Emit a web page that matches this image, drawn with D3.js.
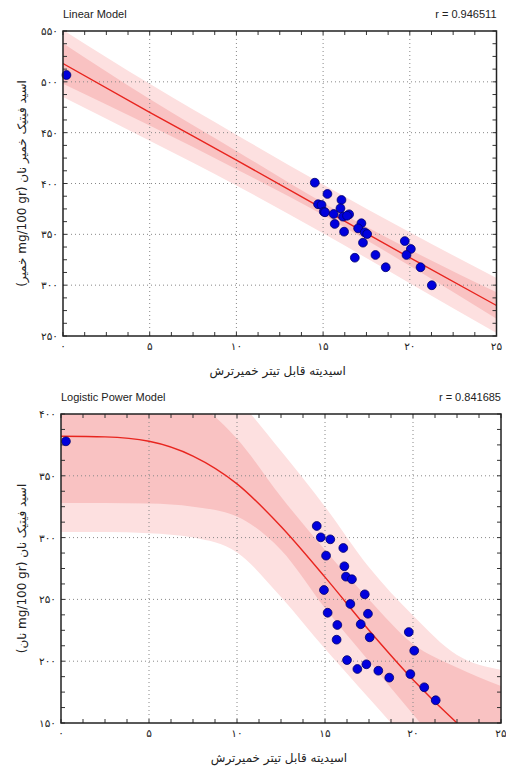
<!DOCTYPE html>
<html>
<head>
<meta charset="utf-8">
<script src="https://cdn.jsdelivr.net/npm/d3@7"></script>
<style>
  body { margin: 0; background: #fff; }
  .fa { font-family: "DejaVu Sans", sans-serif; }
  .en { font-family: "Liberation Sans", Arial, sans-serif; }
</style>
</head>
<body>
<div id="container"></div>
<script>
// valores
const topX = [0.2, 14.52, 15.25, 14.71, 14.91, 16.06, 15.04, 15.11, 15.61, 16.0, 16.15, 16.5, 16.38, 15.67,
  16.21, 17.21, 17.02, 17.4, 17.54, 17.3, 16.83, 18.02, 18.61, 19.71, 20.06, 19.81, 20.62, 21.27];
const topY = [506.7, 400.8, 389.7, 379.6, 378.9, 383.8, 372.3, 371.7, 370, 375.6, 367.4, 369.7, 368.3, 360.2,
  352.6, 360.9, 355.9, 352, 350.3, 341.8, 327, 329.7, 317.6, 343.4, 335.6, 329.7, 317.6, 299.9];

const botX = [0.28, 14.53, 14.76, 15.3, 16.04, 15.06, 16.1, 16.19, 16.53, 14.94, 17.26, 16.44, 15.15, 17.44,
  15.7, 17.03, 15.66, 17.54, 19.76, 20.07, 16.25, 17.35, 16.84, 18.03, 18.65, 19.85, 20.64, 21.29];
const botY = [377.9, 309.4, 300.2, 298.6, 291.6, 285.4, 276.8, 268.4, 266.3, 257.6, 254.1, 246.3, 239.2, 238.4,
  229.3, 229.9, 217.4, 219.3, 223.6, 208.5, 200.9, 197.5, 193.7, 192.3, 186.7, 189.6, 178.9, 168.4];

// modelo lineal: curva y bandas
const linBandX = [0, 5, 10, 15, 20, 25];
const linFit    = [518, 470, 423, 375, 327, 280];
const linConfLo = [498, 457, 414, 369, 319, 267];
const linConfHi = [538, 483, 432, 381, 335, 293];
const linPredLo = [485, 442, 398, 351, 302, 253];
const linPredHi = [551, 498, 448, 399, 352, 307];

// modelo logistic power: curva y bandas
const logBandX = [0, 2.5, 5, 7.5, 10, 12.5, 15, 17.5, 20, 22.5, 25];
const logFit    = [382, 381.5, 378, 366, 343.5, 309, 268, 225, 185, 150, 120];
const logConfLo = [328, 328, 327.5, 325, 317, 290, 243, 200, 157, 115, 75];
const logConfHi = [440, 440, 432, 412, 380, 333, 290, 250, 214, 195, 180];
const logPredLo = [304.5, 304.5, 303.5, 300, 288, 252, 210, 170, 130, 90, 50];
const logPredHi = [460, 460, 455, 440, 412, 370, 325, 276, 237, 205, 193];

const xTicks = [0, 5, 10, 15, 20, 25];
const yTicksTop = [250, 300, 350, 400, 450, 500, 550];
const yTicksBot = [150, 200, 250, 300, 350, 400];

const WIDTH = 506;
const HEIGHT = 767;

const svg = d3.select('#container')
  .append('svg')
    .attr('width', WIDTH)
    .attr('height', HEIGHT);

const fa = v => String(v).replace(/\d/g, d => '۰۱۲۳۴۵۶۷۸۹'[d]);

function drawChart(c) {
  const x = d3.scaleLinear().domain([0, 25]).range([c.left, c.right]);
  const y = d3.scaleLinear().domain(c.yDomain).range([c.bottom, c.top]);
  const g = svg.append('g');

  g.append('clipPath').attr('id', c.id)
    .append('rect')
      .attr('x', c.left).attr('y', c.top)
      .attr('width', c.right - c.left).attr('height', c.bottom - c.top);

  const plot = g.append('g').attr('clip-path', `url(#${c.id})`);

  // bandas
  const area = (lo, hi) => d3.area()
    .x((d, i) => x(c.bandX[i]))
    .y0((d, i) => y(lo[i]))
    .y1((d, i) => y(hi[i]))
    .curve(d3.curveMonotoneX);

  plot.append('path').datum(c.bandX)
    .attr('d', area(c.predLo, c.predHi))
    .attr('fill', '#fde0e0');
  plot.append('path').datum(c.bandX)
    .attr('d', area(c.confLo, c.confHi))
    .attr('fill', '#f9c2c2');

  // grid
  const [y0, y1] = c.yDomain;
  plot.selectAll('.gx').data(xTicks.slice(1, -1)).enter()
    .append('line')
      .attr('x1', d => x(d)).attr('x2', d => x(d))
      .attr('y1', c.top).attr('y2', c.bottom)
      .attr('stroke', '#888').attr('stroke-width', 1).attr('stroke-dasharray', '1,3');
  plot.selectAll('.gy').data(c.yTicks.filter(v => v > y0 && v < y1)).enter()
    .append('line')
      .attr('y1', d => y(d)).attr('y2', d => y(d))
      .attr('x1', c.left).attr('x2', c.right)
      .attr('stroke', '#888').attr('stroke-width', 1).attr('stroke-dasharray', '1,3');

  // curva ajustada
  plot.append('path').datum(c.bandX)
    .attr('d', d3.line()
      .x((d, i) => x(c.bandX[i]))
      .y((d, i) => y(c.fit[i]))
      .curve(d3.curveMonotoneX))
    .attr('fill', 'none')
    .attr('stroke', '#e8251f')
    .attr('stroke-width', 1.4);

  // marcas hacia adentro
  const xMinor = d3.range(0, 25.01, 1.25);
  const yMinor = d3.range(y0, y1 + 0.01, 12.5);
  const tk = g.append('g').attr('stroke', '#333').attr('stroke-width', 1);
  xMinor.forEach(v => {
    tk.append('line').attr('x1', x(v)).attr('x2', x(v)).attr('y1', c.bottom).attr('y2', c.bottom - 4);
    tk.append('line').attr('x1', x(v)).attr('x2', x(v)).attr('y1', c.top).attr('y2', c.top + 4);
  });
  yMinor.forEach(v => {
    tk.append('line').attr('y1', y(v)).attr('y2', y(v)).attr('x1', c.left).attr('x2', c.left + 4);
    tk.append('line').attr('y1', y(v)).attr('y2', y(v)).attr('x1', c.right).attr('x2', c.right - 4);
  });

  // puntos
  g.selectAll('.pt').data(c.xs).enter()
    .append('circle')
      .attr('cx', d => x(d))
      .attr('cy', (d, i) => y(c.ys[i]))
      .attr('r', 4.4)
      .attr('fill', '#0000dd')
      .attr('stroke', '#00006a')
      .attr('stroke-width', 0.8);

  // marco
  g.append('rect')
    .attr('x', c.left).attr('y', c.top)
    .attr('width', c.right - c.left).attr('height', c.bottom - c.top)
    .attr('fill', 'none').attr('stroke', '#222').attr('stroke-width', 1.5);

  // etiquetas
  g.selectAll('.xl').data(xTicks).enter()
    .append('text').attr('class', 'fa')
      .attr('x', d => x(d)).attr('y', c.bottom + 14)
      .attr('text-anchor', 'middle')
      .attr('font-size', 10.5).attr('fill', '#222')
      .text(d => fa(d));
  g.selectAll('.yl').data(c.yTicks).enter()
    .append('text').attr('class', 'fa')
      .attr('x', c.left - 5).attr('y', d => y(d) + 4)
      .attr('text-anchor', 'end')
      .attr('font-size', 10.5).attr('fill', '#222')
      .text(d => fa(d));

  g.append('text').attr('class', 'en')
    .attr('x', c.left).attr('y', c.top - 13)
    .attr('font-size', 11).attr('fill', '#222')
    .text(c.title);
  g.append('text').attr('class', 'en')
    .attr('x', c.right).attr('y', c.top - 13)
    .attr('text-anchor', 'end')
    .attr('font-size', 11).attr('fill', '#222')
    .text(c.r);

  g.append('text').attr('class', 'fa')
    .attr('x', (c.left + c.right) / 2 - 2).attr('y', c.bottom + 39)
    .attr('text-anchor', 'middle')
    .attr('direction', 'rtl')
    .attr('font-size', 12).attr('fill', '#222')
    .text('اسیدیته قابل تیتر خمیرترش');

  g.append('text').attr('class', 'fa')
    .attr('transform', `translate(26, ${(c.top + c.bottom) / 2}) rotate(-90)`)
    .attr('text-anchor', 'middle')
    .attr('direction', 'rtl')
    .attr('font-size', 12).attr('fill', '#222')
    .text(c.yLabel);
}

drawChart({
  id: 'clipTop', left: 63, right: 496.5, top: 31, bottom: 336,
  yDomain: [250, 550], yTicks: yTicksTop,
  xs: topX, ys: topY,
  bandX: linBandX, fit: linFit,
  confLo: linConfLo, confHi: linConfHi, predLo: linPredLo, predHi: linPredHi,
  title: 'Linear Model', r: 'r = 0.946511',
  yLabel: 'اسید فیتیک خمیر نان (mg/100 gr خمیر)'
});

drawChart({
  id: 'clipBot', left: 61, right: 501, top: 414, bottom: 723,
  yDomain: [150, 400], yTicks: yTicksBot,
  xs: botX, ys: botY,
  bandX: logBandX, fit: logFit,
  confLo: logConfLo, confHi: logConfHi, predLo: logPredLo, predHi: logPredHi,
  title: 'Logistic Power Model', r: 'r = 0.841685',
  yLabel: 'اسید فیتیک نان (mg/100 gr نان)'
});
</script>
</body>
</html>
